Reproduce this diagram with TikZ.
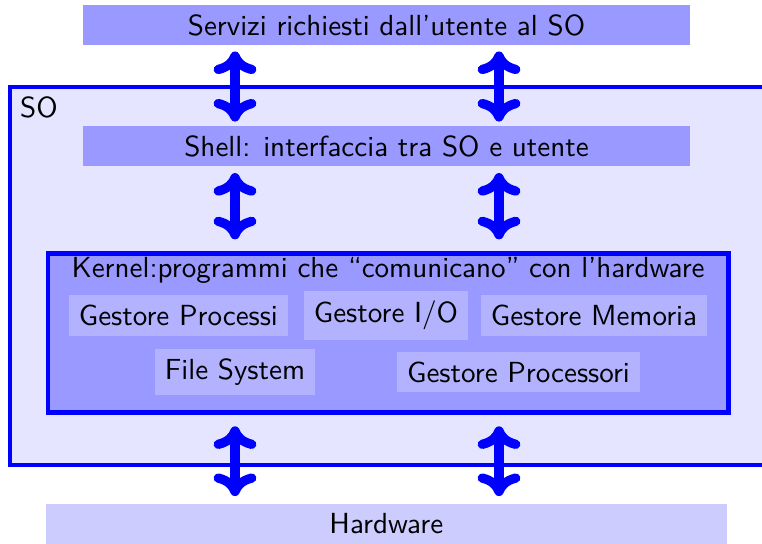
\documentclass[tikz,border=0pt]{standalone}
\usepackage{tikz}
\usetikzlibrary{arrows.meta, positioning}

\begin{document}
\begin{tikzpicture}[x=0.344pt, y=-0.344pt, font=\sffamily,
    layer/.style={fill=blue!40, inner sep=0pt, minimum width=208.8pt, minimum height=13.8pt},
    module/.style={fill=blue!30},
    biarrow/.style={{To[length=7.8pt,width=14.7pt]}-{To[length=7.8pt,width=14.7pt]},
      blue, line width=3.2pt}]
  \useasboundingbox (0,0) rectangle (762,543);
  \node[draw=blue, fill=blue!10, line width=1.4pt, anchor=north west,
        minimum width=262.8pt, minimum height=130pt] (so) at (8,84.7) {};
  \node[anchor=north west, inner sep=4pt] (solabel) at (so.north west) {SO};
  \node[layer] (servizi) at (386.5,25) {Servizi richiesti dall’utente al SO};
  \node[layer] (shell) at (386.5,146) {Shell: interfaccia tra SO e utente};
  \node[draw=blue, fill=blue!40, line width=1.6pt, anchor=north west,
        minimum width=234.1pt, minimum height=54.6pt] (kernel) at (45.5,251.3) {};
  \node[anchor=north, inner sep=2pt] (ktitle) at (kernel.north)
    {Kernel:programmi che “comunicano” con l’hardware};
  \node[module] (processi) at (178.4,315.5) {Gestore Processi};
  \node[module] (io) at (386,315.5) {Gestore I/O};
  \node[module] (memoria) at (594,315.5) {Gestore Memoria};
  \node[module] (filesys) at (235,371.9) {File System};
  \node[module] (processori) at (518.5,371.9) {Gestore Processori};
  \node[fill=blue!20, inner sep=0pt, minimum width=234.4pt, minimum height=13.8pt]
    (hardware) at (386.3,524) {Hardware};
  \coordinate (colL) at (235,0);
  \coordinate (colR) at (499,0);
  \foreach \col in {colL,colR} {
    \draw[biarrow, shorten <=2pt, shorten >=1.3pt] (servizi.south -| \col) -- (shell.north -| \col);
    \draw[biarrow, shorten <=2.2pt, shorten >=4.1pt] (shell.south -| \col) -- (kernel.north -| \col);
    \draw[biarrow, shorten <=4pt, shorten >=2.5pt] (kernel.south -| \col) -- (hardware.north -| \col);
  }
\end{tikzpicture}
\end{document}
